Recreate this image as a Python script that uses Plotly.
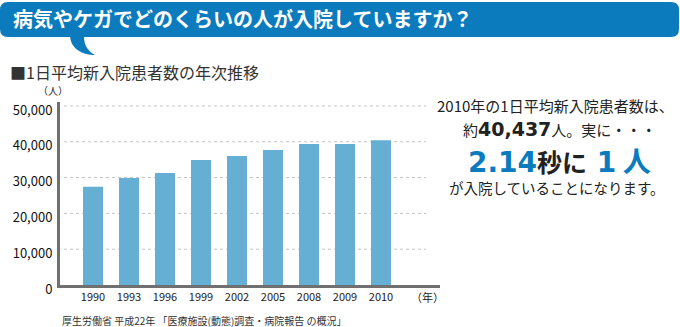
import plotly.graph_objects as go

# ---- data ----
years = ["1990", "1993", "1996", "1999", "2002", "2005", "2008", "2009", "2010"]
patients = [27400, 29900, 31300, 34900, 36000, 37700, 39400, 39400, 40437]
y_ticks = [0, 10000, 20000, 30000, 40000, 50000]
y_tick_labels = ["0", "10,000", "20,000", "30,000", "40,000", "50,000"]

title_text = "病気やケガでどのくらいの人が入院していますか？"
subtitle_text = "■1日平均新入院患者数の年次推移"
unit_text = "（人）"
year_unit_text = "（年）"
source_text = "厚生労働省 平成22年 「医療施設(動態)調査・病院報告 の概況」"

# ---- layout geometry (pixels) ----
W, H = 680, 327
L, R, T, B = 60, 240, 102, 42
PW, PH = W - L - R, H - T - B


def px(x):
    return (x - L) / PW


def py(y):
    return (H - B - y) / PH


def pt(x, y):
    return f"{px(x):.5f},{py(y):.5f}"


JP = "Noto Sans CJK JP"
BLUE = "#0b7bbd"
BAR = "#65afd4"
DARK = "#222222"

fig = go.Figure()
fig.add_trace(go.Bar(
    x=years, y=patients, width=0.556,
    marker=dict(color=BAR, line=dict(width=0)),
    hoverinfo="skip",
))

shapes = []
# dotted gridlines
for t in y_ticks[1:]:
    shapes.append(dict(type="line", xref="paper", yref="y",
                       x0=px(64), x1=px(426), y0=t, y1=t,
                       line=dict(color="#c4c4c4", width=1, dash="dot"),
                       layer="below"))

# header banner (rounded rectangle + tail)
x0, x1, y0, y1, r = 0, 679, 2, 37, 8
banner = (f"M {pt(x0 + r, y0)} L {pt(x1 - r, y0)} Q {pt(x1, y0)} {pt(x1, y0 + r)} "
          f"L {pt(x1, y1 - r)} Q {pt(x1, y1)} {pt(x1 - r, y1)} "
          f"L {pt(x0 + r, y1)} Q {pt(x0, y1)} {pt(x0, y1 - r)} "
          f"L {pt(x0, y0 + r)} Q {pt(x0, y0)} {pt(x0 + r, y0)} Z")
shapes.append(dict(type="path", xref="paper", yref="paper", path=banner,
                   fillcolor=BLUE, line=dict(width=0), layer="above"))
tail = (f"M {pt(70, 36)} C {pt(71, 50)} {pt(84, 55)} {pt(95, 55)} "
        f"C {pt(88, 51)} {pt(84, 46)} {pt(84, 36)} Z")
shapes.append(dict(type="path", xref="paper", yref="paper", path=tail,
                   fillcolor=BLUE, line=dict(width=0), layer="above"))

annotations = [
    dict(text=f"<b>{title_text}</b>", x=px(12), y=py(19), xanchor="left", yanchor="middle",
         font=dict(family=JP, size=20, color="white")),
    dict(text=subtitle_text, x=px(9), y=py(72), xanchor="left", yanchor="middle",
         font=dict(family=JP, size=16, color="#333333")),
    dict(text=unit_text, x=px(53), y=py(91), xanchor="center", yanchor="middle",
         font=dict(family=JP, size=10, color=DARK)),
    dict(text=year_unit_text, x=px(427), y=py(297), xanchor="center", yanchor="middle",
         font=dict(family=JP, size=11, color=DARK)),
    dict(text=source_text, x=px(61), y=py(320), xanchor="left", yanchor="middle",
         font=dict(family=JP, size=10, color="#333333")),
    dict(text="2010年の1日平均新入院患者数は、", x=px(555), y=py(105),
         xanchor="center", yanchor="middle",
         font=dict(family=JP, size=15, color=DARK)),
    dict(text=("約<span style='font-family:DejaVu Sans;font-size:19px;font-weight:bold'>40,437</span>"
               "人。実に・・・"), x=px(559), y=py(129),
         xanchor="center", yanchor="middle",
         font=dict(family=JP, size=15, color=DARK)),
    dict(text=(f"<span style='font-family:DejaVu Sans;font-size:28px;color:{BLUE}'><b>2.14</b></span>"
               f"<b>秒に</b>"
               f"<span style='font-family:DejaVu Sans;font-size:28px;color:{BLUE}'><b> 1</b></span>"
               f"<span style='font-size:28px;color:{BLUE}'><b> 人</b></span>"),
         x=px(559), y=py(160), xanchor="center", yanchor="middle",
         font=dict(family=JP, size=25, color=DARK)),
    dict(text="が入院していることになります。", x=px(557), y=py(187),
         xanchor="center", yanchor="middle",
         font=dict(family=JP, size=14.5, color=DARK)),
]
for a in annotations:
    a.update(xref="paper", yref="paper", showarrow=False, borderpad=0)

fig.update_layout(
    width=W, height=H,
    margin=dict(l=L, r=R, t=T, b=B, pad=0),
    paper_bgcolor="white", plot_bgcolor="white",
    showlegend=False,
    shapes=shapes, annotations=annotations,
    bargap=0.444,
    xaxis=dict(type="category", range=[-0.917, 9.639], showgrid=False, zeroline=False,
               showline=True, linecolor="#707070", linewidth=3, ticks="",
               tickfont=dict(family=JP, size=11, color=DARK), fixedrange=True),
    yaxis=dict(range=[0, 51100], tickvals=y_ticks, ticktext=y_tick_labels,
               showgrid=False, zeroline=False, showline=True, linecolor="#707070",
               linewidth=3, ticks="", ticklabelstandoff=2, ticklabelshift=4,
               tickfont=dict(family=JP, size=13, color="#111111"), fixedrange=True),
)

fig.write_html("out.html", config=dict(displayModeBar=False))
